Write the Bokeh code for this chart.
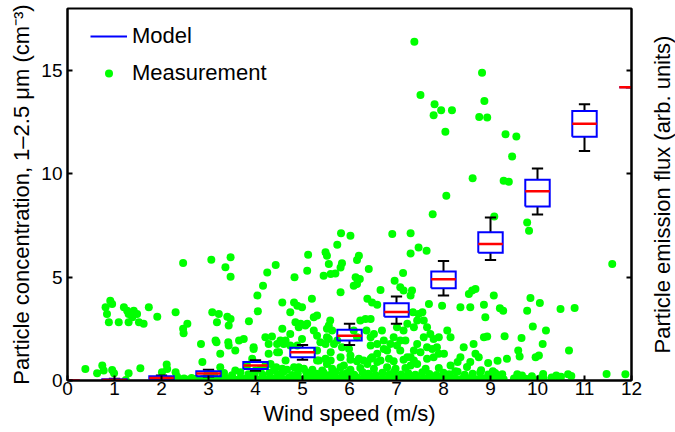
import math
from bokeh.plotting import figure
from bokeh.layouts import row
from bokeh.models import (ColumnDataSource, Range1d, LinearAxis, FixedTicker,
                          Legend, LegendItem, CustomJSTickFormatter)
from bokeh.embed import file_html
from bokeh.resources import INLINE

FONT = "Liberation Sans"

# ---------------- Model (box plot) data ----------------
wind_speed = [0, 1, 2, 3, 4, 5, 6, 7, 8, 9, 10, 11, 12]
box_q1 = [0.0, 0.0, 0.05, 0.21, 0.56, 1.13, 1.93, 3.09, 4.46, 6.18, 8.42, 11.79, 14.19]
box_med = [0.0, 0.03, 0.12, 0.34, 0.72, 1.37, 2.16, 3.32, 4.90, 6.60, 9.16, 12.42, 14.19]
box_q3 = [0.0, 0.06, 0.20, 0.45, 0.89, 1.58, 2.45, 3.74, 5.27, 7.17, 9.71, 13.04, 14.19]
whisk_lo = [0.0, 0.0, 0.03, 0.19, 0.47, 1.00, 1.72, 2.74, 4.11, 5.83, 8.03, 11.11, 14.19]
whisk_hi = [0.0, 0.08, 0.24, 0.52, 0.98, 1.72, 2.74, 4.07, 5.78, 7.89, 10.26, 13.37, 14.19]

# ---------------- Measurement data (x = wind speed, y = concentration) ----------------
meas_low_left = [(0.38, 0.56), (0.63, 0.35), (0.74, 0.72), (0.77, 0.48), (0.95, 0.51), (0.99, 0.35),
                 (1.30, 0.35), (1.55, 0.59), (2.01, 0.40), (2.11, 0.77), (2.12, 0.56), (2.30, 0.40),
                 (2.33, 0.19), (1.24, 0.03)]

meas_cluster_low_wind = [(0.81, 3.54), (0.91, 3.86), (0.95, 3.70), (0.84, 3.22), (0.88, 2.82), (1.09, 2.82),
                         (1.20, 3.54), (1.27, 3.38), (1.30, 3.22), (1.41, 3.38), (1.38, 3.06), (1.48, 3.22),
                         (1.52, 2.82), (1.30, 2.82), (1.62, 2.74), (1.73, 3.54), (1.91, 3.09), (2.30, 3.30),
                         (2.55, 2.74), (2.46, 2.50), (2.47, 2.29)]

meas_upper = [(2.46, 5.68), (3.06, 5.84), (3.36, 5.48), (3.47, 5.96), (3.47, 5.02), (4.43, 5.59), (4.25, 5.23),
              (4.16, 4.59), (4.04, 4.11), (4.83, 4.99), (5.10, 5.31), (5.12, 6.09), (5.20, 3.95), (5.49, 6.20),
              (5.52, 6.04), (5.56, 5.64), (5.74, 6.57), (5.82, 7.12), (6.02, 7.00), (5.81, 5.47), (5.70, 5.18),
              (5.45, 5.07), (5.60, 5.15), (5.84, 5.67), (6.16, 5.83), (6.13, 4.99), (6.16, 4.67), (5.81, 4.27),
              (6.20, 6.04), (6.41, 5.39), (6.22, 4.91), (6.09, 4.59), (6.38, 3.95), (6.91, 7.09),
              (7.30, 7.12), (7.47, 6.44), (7.64, 6.28), (7.30, 6.15), (7.14, 5.20), (6.96, 4.83), (7.08, 4.51),
              (7.15, 4.35), (7.33, 4.35), (7.30, 4.11), (6.66, 4.38), (6.48, 3.78), (6.59, 3.67), (8.54, 4.19),
              (8.61, 4.35), (8.68, 4.43), (9.07, 4.11), (9.85, 3.99), (10.05, 3.75)]

meas_outliers = [(7.38, 16.39), (8.82, 14.89), (7.51, 13.82), (7.81, 13.37), (7.95, 13.08), (8.18, 13.08),
                 (7.79, 12.83), (8.04, 12.04), (8.87, 13.53), (8.76, 12.75), (8.93, 12.72), (8.62, 9.79),
                 (8.06, 8.94), (7.77, 8.05), (9.08, 7.94), (9.32, 11.92), (9.55, 11.81), (9.46, 10.84),
                 (9.28, 9.67), (9.39, 9.62), (9.78, 7.65), (9.82, 7.25), (11.59, 5.64)]

meas_mid = [(2.84, 1.77), (2.87, 0.89), (3.08, 3.30), (3.22, 3.22), (3.40, 3.09), (3.47, 2.98), (3.18, 2.82),
            (3.43, 2.66), (3.15, 1.93), (3.17, 1.85), (3.42, 1.85), (3.43, 1.69), (3.57, 1.45), (3.25, 1.29),
            (3.65, 1.93), (3.75, 2.01), (3.96, 1.61), (3.86, 2.87), (4.05, 3.35), (4.21, 2.09), (4.35, 2.13),
            (4.28, 1.77), (4.46, 1.77), (4.57, 2.50), (4.64, 1.93), (4.74, 2.25), (4.85, 2.82), (4.92, 2.58),
            (5.10, 2.74), (4.82, 3.78), (4.89, 3.62), (4.57, 3.78), (4.74, 3.30), (4.99, 3.54), (4.96, 2.74),
            (5.06, 2.66), (4.53, 1.93), (4.60, 1.77), (4.74, 1.69), (4.89, 1.69), (4.50, 1.37), (4.28, 1.29),
            (4.46, 1.37), (3.96, 1.53), (3.93, 1.05), (4.64, 0.97), (4.99, 2.01), (5.24, 3.06), (5.31, 3.14),
            (5.24, 2.42), (5.31, 2.17), (5.38, 1.85), (5.56, 2.01), (5.49, 1.77), (5.67, 1.77), (5.60, 1.37),
            (5.59, 2.90), (5.56, 2.66), (5.52, 2.50), (5.63, 2.42), (5.52, 2.09), (5.31, 1.45), (5.74, 1.93),
            (5.84, 1.61), (5.99, 1.53), (6.02, 1.21), (6.20, 1.05), (5.31, 0.97), (6.34, 2.98), (6.45, 2.98),
            (6.23, 2.90), (6.36, 2.42), (6.45, 2.09), (6.16, 2.09), (6.09, 2.42), (6.69, 2.42), (6.73, 1.93),
            (6.94, 2.09), (7.08, 1.93), (7.15, 2.42), (7.37, 2.58), (7.72, 2.25), (7.79, 2.01), (7.90, 2.09),
            (8.08, 2.42), (8.15, 2.09), (7.86, 1.61), (7.76, 1.53), (7.44, 1.77), (7.51, 1.37), (7.37, 1.45),
            (7.30, 1.13), (7.08, 1.45), (7.01, 1.69), (6.87, 1.77), (6.73, 1.53), (6.59, 1.29), (6.45, 1.05),
            (7.65, 1.05), (7.79, 1.13), (8.01, 1.29), (8.36, 1.13), (8.43, 1.61), (8.64, 1.77), (8.68, 1.29),
            (8.75, 1.13), (8.86, 2.09), (8.93, 2.13), (7.35, 3.30), (7.47, 3.22), (7.55, 3.30), (7.44, 2.90),
            (7.69, 3.70), (7.97, 3.62), (8.36, 3.54), (8.57, 3.54), (8.86, 3.67), (8.89, 3.06), (9.20, 3.50),
            (6.52, 2.25), (6.59, 1.77), (6.80, 1.45), (7.01, 2.58), (7.23, 2.74), (7.58, 2.90), (7.65, 2.58),
            (7.19, 1.93), (7.58, 2.09), (7.65, 1.61), (7.90, 1.29), (9.27, 3.38), (9.78, 3.38), (10.49, 3.46),
            (10.79, 3.51), (9.90, 2.61), (10.18, 2.42), (9.30, 2.14), (9.66, 2.06), (10.11, 1.77), (9.59, 1.45),
            (9.62, 1.16), (9.35, 1.05), (9.96, 1.13), (10.03, 1.21), (10.67, 1.45), (6.45, 1.69)]

meas_row_1 = [(5.35, 0.97), (5.49, 1.05), (5.60, 0.97), (5.81, 1.13), (6.02, 1.01), (6.16, 0.93), (6.30, 0.97),
              (6.48, 1.13), (6.66, 0.97), (6.84, 1.05), (6.94, 0.93), (7.15, 1.01), (7.23, 1.13), (7.37, 0.97),
              (8.30, 0.90), (8.57, 0.89), (8.95, 0.85), (9.15, 0.95), (4.32, 0.80), (5.52, 0.80), (5.88, 0.72),
              (4.21, 0.72), (4.92, 0.64), (3.25, 0.64)]

meas_row_06 = [(3.57, 0.48), (3.82, 0.72), (4.00, 0.48), (4.11, 0.57), (4.39, 0.48), (4.44, 0.64), (4.57, 0.57),
               (4.67, 0.52), (4.82, 0.64), (5.03, 0.57), (5.21, 0.52), (5.42, 0.48), (5.63, 0.57), (5.81, 0.64),
               (6.02, 0.52), (6.23, 0.60), (6.38, 0.80), (6.52, 0.57), (6.59, 0.89), (6.80, 0.64), (6.98, 0.57),
               (7.19, 0.60), (7.30, 0.72), (7.44, 0.80), (7.62, 0.57), (7.90, 0.60), (8.15, 0.72), (8.25, 0.45),
               (8.50, 0.65), (8.80, 0.50), (9.05, 0.45)]

meas_row_035 = [(2.98, 0.30), (3.12, 0.28), (3.33, 0.36), (3.50, 0.25), (3.68, 0.40), (3.85, 0.30), (3.98, 0.34),
                (4.15, 0.28), (4.30, 0.38), (4.48, 0.30), (4.60, 0.42), (4.78, 0.27), (4.90, 0.35), (5.08, 0.40),
                (5.15, 0.29), (5.30, 0.33), (5.45, 0.38), (5.58, 0.27), (5.70, 0.41), (5.85, 0.31), (5.95, 0.36),
                (6.10, 0.28), (6.28, 0.40), (6.40, 0.33), (6.55, 0.27), (6.70, 0.38), (6.85, 0.30), (6.95, 0.42),
                (7.10, 0.29), (7.25, 0.35), (7.40, 0.28), (7.55, 0.40), (7.70, 0.32), (7.85, 0.27), (8.00, 0.37),
                (8.12, 0.30), (8.30, 0.42), (8.45, 0.28), (8.62, 0.33), (8.78, 0.39), (8.95, 0.29), (9.10, 0.36),
                (9.25, 0.30)]

meas_bottom = [(2.40, 0.05), (2.48, 0.10), (2.56, 0.04), (2.64, 0.12), (2.72, 0.07), (2.80, 0.03), (2.88, 0.09),
               (2.96, 0.14), (3.04, 0.06), (3.12, 0.11), (3.20, 0.04), (3.28, 0.08), (3.36, 0.13), (3.44, 0.05),
               (3.52, 0.10), (3.60, 0.03), (3.68, 0.12), (3.76, 0.07), (3.84, 0.15), (3.92, 0.05), (4.00, 0.09),
               (4.08, 0.04), (4.16, 0.11), (4.24, 0.06), (4.32, 0.13), (4.40, 0.08), (4.48, 0.03), (4.56, 0.10),
               (4.64, 0.05), (4.72, 0.14), (4.80, 0.07), (4.88, 0.12), (4.96, 0.04), (5.04, 0.09), (5.12, 0.06),
               (5.20, 0.15), (5.28, 0.03), (5.36, 0.11), (5.44, 0.08), (5.52, 0.05), (5.60, 0.13), (5.68, 0.07),
               (5.76, 0.10), (5.84, 0.04), (5.92, 0.12), (6.00, 0.06), (6.08, 0.09), (6.16, 0.14), (6.24, 0.05),
               (6.32, 0.11), (6.40, 0.03), (6.48, 0.08), (6.56, 0.13), (6.64, 0.06), (6.72, 0.10), (6.80, 0.04),
               (6.88, 0.12), (6.96, 0.07), (7.04, 0.15), (7.12, 0.05), (7.20, 0.09), (7.28, 0.11), (7.36, 0.04),
               (7.44, 0.13), (7.52, 0.06), (7.60, 0.08), (7.68, 0.10), (7.76, 0.03), (7.84, 0.12), (7.92, 0.07),
               (8.00, 0.14), (8.08, 0.05), (8.16, 0.09), (8.24, 0.11), (8.32, 0.04), (8.40, 0.08), (8.48, 0.13),
               (8.56, 0.06), (8.64, 0.10), (8.72, 0.05), (8.80, 0.12), (8.88, 0.07), (8.96, 0.03), (9.04, 0.11),
               (9.12, 0.09), (9.20, 0.14), (9.28, 0.06)]

meas_right_tail = [(9.14, 0.24), (9.50, 0.10), (9.57, 0.30), (9.62, 0.22), (9.67, 0.24), (9.75, 0.08),
                   (9.88, 0.20), (9.89, 0.08), (10.05, 0.10), (10.12, 0.32), (10.13, 0.08), (10.30, 0.15),
                   (10.40, 0.24), (10.47, 0.08), (10.50, 0.18), (10.65, 0.30), (10.72, 0.22), (11.47, 0.32),
                   (11.87, 0.30)]

measurement_groups = [meas_low_left, meas_cluster_low_wind, meas_upper, meas_outliers, meas_mid,
                      meas_row_1, meas_row_06, meas_row_035, meas_bottom, meas_right_tail]

x_label = "Wind speed (m/s)"
y_label = "Particle concentration, 1\u20132.5 \u03bcm (cm\u207b\u00b3)"
y2_label = "Particle emission flux (arb. units)"

# ---------------- Main figure ----------------
p = figure(width=642, height=432, output_backend="svg", toolbar_location=None,
           x_range=Range1d(0, 12), y_range=Range1d(0, 18),
           min_border_left=67, min_border_right=11, min_border_top=8, min_border_bottom=52)
p.xgrid.visible = False
p.ygrid.visible = False
p.outline_line_color = "black"
p.outline_line_width = 2
p.background_fill_color = "white"
p.border_fill_color = "white"

for ax in (p.xaxis[0], p.yaxis[0]):
    ax.axis_line_width = 2
    ax.axis_line_color = "black"
    ax.major_tick_in = 5
    ax.major_tick_out = 0
    ax.minor_tick_in = 0
    ax.minor_tick_out = 0
    ax.major_tick_line_width = 2
    ax.major_label_text_font = FONT
    ax.major_label_text_font_size = "19px"
    ax.major_label_text_color = "black"
    ax.axis_label_text_font = FONT
    ax.axis_label_text_font_size = "22px"
    ax.axis_label_text_font_style = "normal"
    ax.axis_label_text_color = "black"

p.xaxis[0].ticker = FixedTicker(ticks=wind_speed)
p.xaxis[0].major_label_standoff = 1
p.xaxis[0].axis_label = x_label
p.xaxis[0].axis_label_standoff = 3
p.yaxis[0].ticker = FixedTicker(ticks=[0, 5, 10, 15])
p.yaxis[0].major_label_standoff = 5
p.yaxis[0].axis_label = y_label
p.yaxis[0].axis_label_standoff = 4

right_axis = LinearAxis(ticker=FixedTicker(ticks=[5, 10, 15]),
                        formatter=CustomJSTickFormatter(code="return ''"),
                        axis_line_width=2, major_tick_in=5, major_tick_out=0,
                        minor_tick_in=0, minor_tick_out=0, major_tick_line_width=2,
                        major_label_standoff=0)
p.add_layout(right_axis, "right")

# scatter of measurements
mx = [pt[0] for g in measurement_groups for pt in g]
my = [pt[1] for g in measurement_groups for pt in g]
meas_src = ColumnDataSource(data=dict(x=mx, y=my))
r_meas = p.scatter(x="x", y="y", source=meas_src, size=8, marker="circle",
                   fill_color="#00FF00", line_color=None)

# model box plot
hw = 0.26
cap = 0.12
box_xs = [[w - hw, w + hw, w + hw, w - hw, w - hw] for w in wind_speed]
box_ys = [[a, a, b, b, a] for a, b in zip(box_q1, box_q3)]
box_src = ColumnDataSource(data=dict(xs=box_xs, ys=box_ys))
whisk_src = ColumnDataSource(data=dict(
    w=wind_speed, q1=box_q1, q3=box_q3, lo=whisk_lo, hi=whisk_hi, med=box_med,
    left=[w - hw for w in wind_speed], right=[w + hw for w in wind_speed],
    cl=[w - cap for w in wind_speed], cr=[w + cap for w in wind_speed]))

p.segment(x0="w", y0="q3", x1="w", y1="hi", source=whisk_src, line_color="black", line_width=2)
p.segment(x0="w", y0="lo", x1="w", y1="q1", source=whisk_src, line_color="black", line_width=2)
p.segment(x0="cl", y0="hi", x1="cr", y1="hi", source=whisk_src, line_color="black", line_width=2)
p.segment(x0="cl", y0="lo", x1="cr", y1="lo", source=whisk_src, line_color="black", line_width=2)
r_box = p.multi_line(xs="xs", ys="ys", source=box_src, line_color="#0000FF", line_width=2,
                     line_join="miter")
p.segment(x0="left", y0="med", x1="right", y1="med", source=whisk_src, line_color="#FF0000", line_width=2.5)

legend = Legend(items=[LegendItem(label="Model", renderers=[r_box]),
                       LegendItem(label="Measurement", renderers=[r_meas])],
                location=(23, 289), padding=0, margin=0, spacing=0,
                glyph_width=37, glyph_height=20, label_height=37, label_standoff=5,
                label_text_font=FONT, label_text_font_size="22px", label_text_color="black",
                border_line_color=None, background_fill_alpha=0)
p.add_layout(legend)

# ---------------- Narrow strip carrying the right-hand axis title ----------------
p2 = figure(width=33, height=432, output_backend="svg", toolbar_location=None,
            x_axis_location=None, y_axis_location="left",
            x_range=Range1d(0, 1), y_range=Range1d(0, 18),
            min_border_left=32, min_border_right=0, min_border_top=8, min_border_bottom=52)
p2.xgrid.visible = False
p2.ygrid.visible = False
p2.outline_line_color = None
p2.background_fill_color = "white"
p2.border_fill_color = "white"
ax2 = p2.yaxis[0]
ax2.formatter = CustomJSTickFormatter(code="return ''")
ax2.major_tick_in = 0
ax2.major_tick_out = 0
ax2.minor_tick_in = 0
ax2.minor_tick_out = 0
ax2.axis_line_color = None
ax2.major_label_standoff = 0
ax2.axis_label = y2_label
ax2.axis_label_standoff = 0
ax2.axis_label_text_font = FONT
ax2.axis_label_text_font_size = "22px"
ax2.axis_label_text_font_style = "normal"
ax2.axis_label_text_color = "black"

layout = row(p, p2, spacing=0)
open("out.html", "w").write(file_html(layout, INLINE))
